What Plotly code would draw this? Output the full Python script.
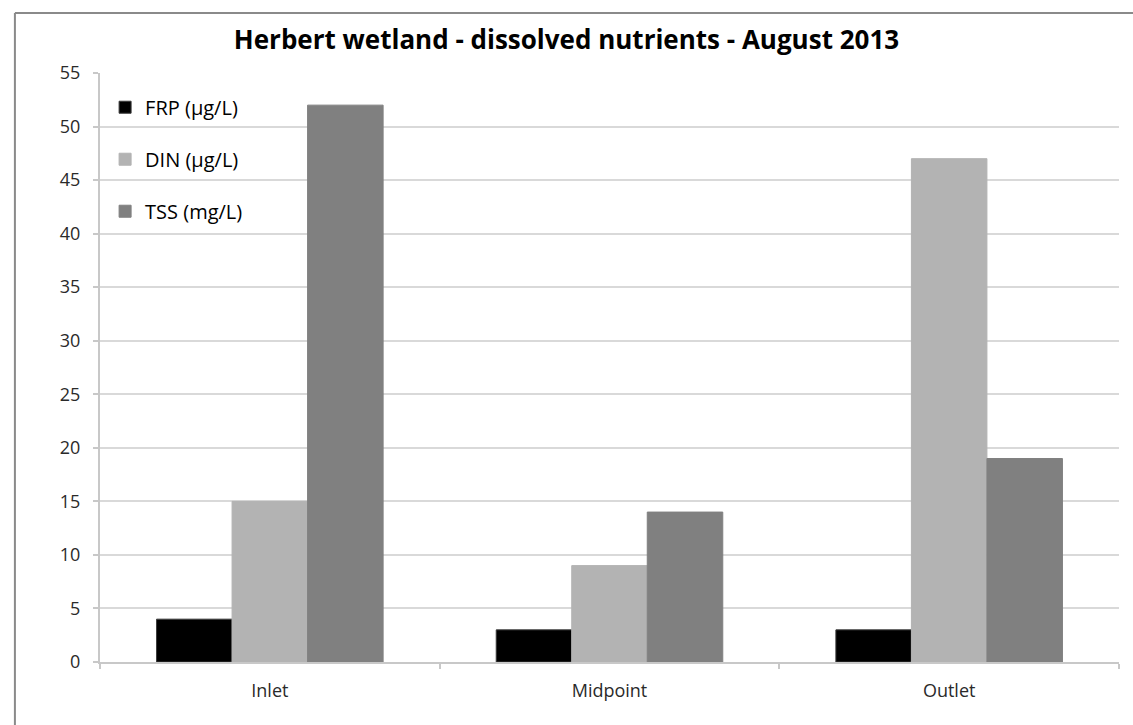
import plotly.graph_objects as go

# Sampling sites and measured concentrations
sites = ["Inlet", "Midpoint", "Outlet"]
frp_ug_l = [4, 3, 3]
din_ug_l = [15, 9, 47]
tss_mg_l = [52, 14, 19]

series_names = ["FRP (µg/L)", "DIN (µg/L)", "TSS (mg/L)"]
series_colors = ["#000000", "#b3b3b3", "#808080"]
y_ticks = list(range(0, 56, 5))

FONT = "'Open Sans', Lato, sans-serif"

fig = go.Figure()
for i, (name, vals, col) in enumerate(zip(series_names, [frp_ug_l, din_ug_l, tss_mg_l], series_colors)):
    fig.add_trace(go.Bar(
        x=sites, y=vals, name=name, legendgroup=f"g{i}",
        marker=dict(color=col, line=dict(color="#3a3a3a" if i == 0 else col, width=1)),
    ))

fig.update_layout(
    width=1133, height=725,
    margin=dict(l=100, r=14, t=73, b=63),
    paper_bgcolor="white", plot_bgcolor="white",
    barmode="group", bargap=0.333, bargroupgap=0,
    title=dict(text="<b>Herbert wetland - dissolved nutrients - August 2013</b>",
               x=0.5, xanchor="center", y=0.945, yanchor="middle",
               font=dict(family=FONT, size=26, color="#000000")),
    font=dict(family=FONT, size=17, color="#333333"),
    showlegend=True,
    legend=dict(x=0.005, y=0.975, xanchor="left", yanchor="top",
                bgcolor="rgba(0,0,0,0)", font=dict(family=FONT, size=20, color="#000000"),
                tracegroupgap=23, itemwidth=30, traceorder="grouped"),
    xaxis=dict(showgrid=False, showline=True, linecolor="#c8c8c8", linewidth=2,
               ticks="outside", tickson="boundaries", ticklen=5, tickcolor="#c8c8c8",
               tickwidth=2, ticklabelstandoff=11, tickfont=dict(size=18, color="#2a2a2a")),
    yaxis=dict(range=[0, 55], tickvals=y_ticks, showgrid=True, gridcolor="#d9d9d9",
               gridwidth=2, showline=True, linecolor="#c8c8c8", linewidth=2,
               ticks="outside", ticklen=5, tickcolor="#c8c8c8", tickwidth=2,
               ticklabelstandoff=9, zeroline=False, tickfont=dict(size=18, color="#2a2a2a")),
    shapes=[
        dict(type="line", xref="paper", yref="paper", x0=-0.0835, x1=1.02,
             y0=1.102, y1=1.102, line=dict(color="#8a8a8a", width=2)),
        dict(type="line", xref="paper", yref="paper", x0=-0.0835, x1=-0.0835,
             y0=-0.12, y1=1.102, line=dict(color="#8a8a8a", width=2)),
    ],
)

fig.write_html("out.html")
